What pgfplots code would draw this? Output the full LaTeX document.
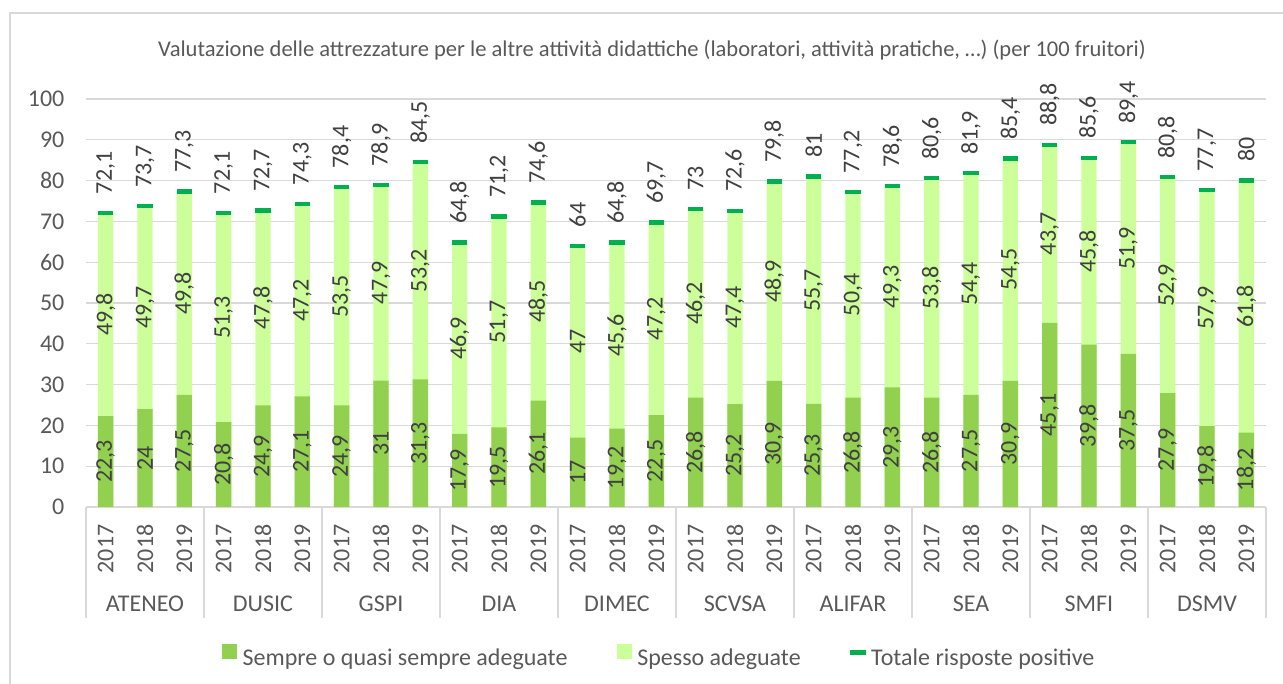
\documentclass[border=0pt]{standalone}
\usepackage{pgfplots}
\usepackage{pgfplotstable}
\pgfplotsset{compat=1.18}
\usepackage{fontspec}
\setmainfont{Carlito}
\definecolor{dk}{HTML}{92D050}
\definecolor{lt}{HTML}{CCFF99}
\definecolor{tot}{HTML}{00B050}
\definecolor{gridc}{HTML}{D9D9D9}
\definecolor{txt}{HTML}{595959}
\definecolor{lbl}{HTML}{404040}
\pgfplotstableread{
x a b t
0 22.3 49.8 72.1
1 24 49.7 73.7
2 27.5 49.8 77.3
3 20.8 51.3 72.1
4 24.9 47.8 72.7
5 27.1 47.2 74.3
6 24.9 53.5 78.4
7 31 47.9 78.9
8 31.3 53.2 84.5
9 17.9 46.9 64.8
10 19.5 51.7 71.2
11 26.1 48.5 74.6
12 17 47 64
13 19.2 45.6 64.8
14 22.5 47.2 69.7
15 26.8 46.2 73
16 25.2 47.4 72.6
17 30.9 48.9 79.8
18 25.3 55.7 81
19 26.8 50.4 77.2
20 29.3 49.3 78.6
21 26.8 53.8 80.6
22 27.5 54.4 81.9
23 30.9 54.5 85.4
24 45.1 43.7 88.8
25 39.8 45.8 85.6
26 37.5 51.9 89.4
27 27.9 52.9 80.8
28 19.8 57.9 77.7
29 18.2 61.8 80
}\data
\newcommand{\bigf}{\fontsize{18pt}{21pt}\selectfont}
\begin{document}
\begin{tikzpicture}
\useasboundingbox (-64.5pt,-132.75pt) rectangle (897.75pt,380.25pt);
\draw[gridc, line width=0.8pt] (-57pt,-200pt) rectangle (1000pt,370.5pt);
\begin{axis}[
  at={(0pt,0pt)}, anchor=south west,
  scale only axis, width=885pt, height=306pt,
  clip=false,
  xmin=-0.5, xmax=29.5, ymin=0, ymax=100,
  axis x line=bottom, axis y line=left,
  y axis line style={draw=none},
  x axis line style={draw=gridc, line width=1pt, -},
  ytick={0,10,...,100},
  ymajorgrids, grid style={gridc, line width=1pt},
  major tick length=0pt,
  xtick={0,...,29},
  xticklabels={2017,2018,2019,2017,2018,2019,2017,2018,2019,2017,2018,2019,2017,2018,2019,2017,2018,2019,2017,2018,2019,2017,2018,2019,2017,2018,2019,2017,2018,2019},
  x tick label style={rotate=90, anchor=east, inner xsep=13pt, inner ysep=0pt, font=\bigf, text=txt},
  y tick label style={anchor=east, inner sep=0pt, xshift=-16pt, font=\bigf, text=txt},
  extra x ticks={-0.5,2.5,5.5,8.5,11.5,14.5,17.5,20.5,23.5,26.5,29.5},
  extra x tick labels={},
  extra x tick style={major tick length=83.25pt, tick align=outside, tick style={draw=gridc, line width=1pt}, grid=none},
  /pgf/number format/.cd, use comma, fixed, precision=1, assume math mode=true,
  /pgfplots/.cd,
  legend style={at={(0.4850,-0.3652)}, anchor=center, draw=none, fill=none,
    legend columns=3, font=\bigf, text=txt,
    nodes={inner sep=0pt},
    /tikz/every odd column/.append style={column sep=4.5pt},
    /tikz/every even column/.append style={column sep=37pt}},
  legend cell align=left,
]
\addplot[ybar, bar width=11.5pt, bar shift=0pt, fill=lt, draw=none, forget plot] table[x=x, y=t]{\data};
\addplot[ybar, bar width=11.5pt, bar shift=0pt, fill=dk, draw=none, forget plot] table[x=x, y=a]{\data};
\addplot[only marks, mark=-, mark size=5.75pt, mark options={line width=3.2pt, draw=tot}, forget plot,
  nodes near coords, point meta=explicit,
  nodes near coords style={rotate=90, anchor=west, inner xsep=12.5pt, inner ysep=0pt, font=\bigf, text=lbl}]
  table[x=x, y=t, meta=t]{\data};
\addplot[draw=none, mark=none, forget plot, nodes near coords, point meta=explicit,
  nodes near coords style={rotate=90, anchor=center, inner sep=0pt, font=\bigf, text=lbl}]
  table[x=x, y expr=\thisrow{a}/2, meta=a]{\data};
\addplot[draw=none, mark=none, forget plot, nodes near coords, point meta=explicit,
  nodes near coords style={rotate=90, anchor=center, inner sep=0pt, font=\bigf, text=lbl}]
  table[x=x, y expr=\thisrow{a}+\thisrow{b}/2, meta=b]{\data};
\addlegendimage{legend image code/.code={\fill[dk] (0pt,0pt) rectangle (10.5pt,10.5pt);}}
\addlegendentry{Sempre o quasi sempre adeguate}
\addlegendimage{legend image code/.code={\fill[lt] (0pt,0pt) rectangle (10.5pt,10.5pt);}}
\addlegendentry{Spesso adeguate}
\addlegendimage{legend image code/.code={\fill[tot] (0pt,3pt) rectangle (11pt,6pt);}}
\addlegendentry{Totale risposte positive}
\node[font=\bigf, text=txt] at (axis cs:1,0) [yshift=-72.75pt] {ATENEO};
\node[font=\bigf, text=txt] at (axis cs:4,0) [yshift=-72.75pt] {DUSIC};
\node[font=\bigf, text=txt] at (axis cs:7,0) [yshift=-72.75pt] {GSPI};
\node[font=\bigf, text=txt] at (axis cs:10,0) [yshift=-72.75pt] {DIA};
\node[font=\bigf, text=txt] at (axis cs:13,0) [yshift=-72.75pt] {DIMEC};
\node[font=\bigf, text=txt] at (axis cs:16,0) [yshift=-72.75pt] {SCVSA};
\node[font=\bigf, text=txt] at (axis cs:19,0) [yshift=-72.75pt] {ALIFAR};
\node[font=\bigf, text=txt] at (axis cs:22,0) [yshift=-72.75pt] {SEA};
\node[font=\bigf, text=txt] at (axis cs:25,0) [yshift=-72.75pt] {SMFI};
\node[font=\bigf, text=txt] at (axis cs:28,0) [yshift=-72.75pt] {DSMV};
\end{axis}
\node[font=\fontsize{16.9pt}{20pt}\selectfont, text=txt] at (424.5pt,342.75pt) {Valutazione delle attrezzature per le altre attività didattiche (laboratori, attività pratiche, …) (per 100 fruitori)};
\end{tikzpicture}
\end{document}
